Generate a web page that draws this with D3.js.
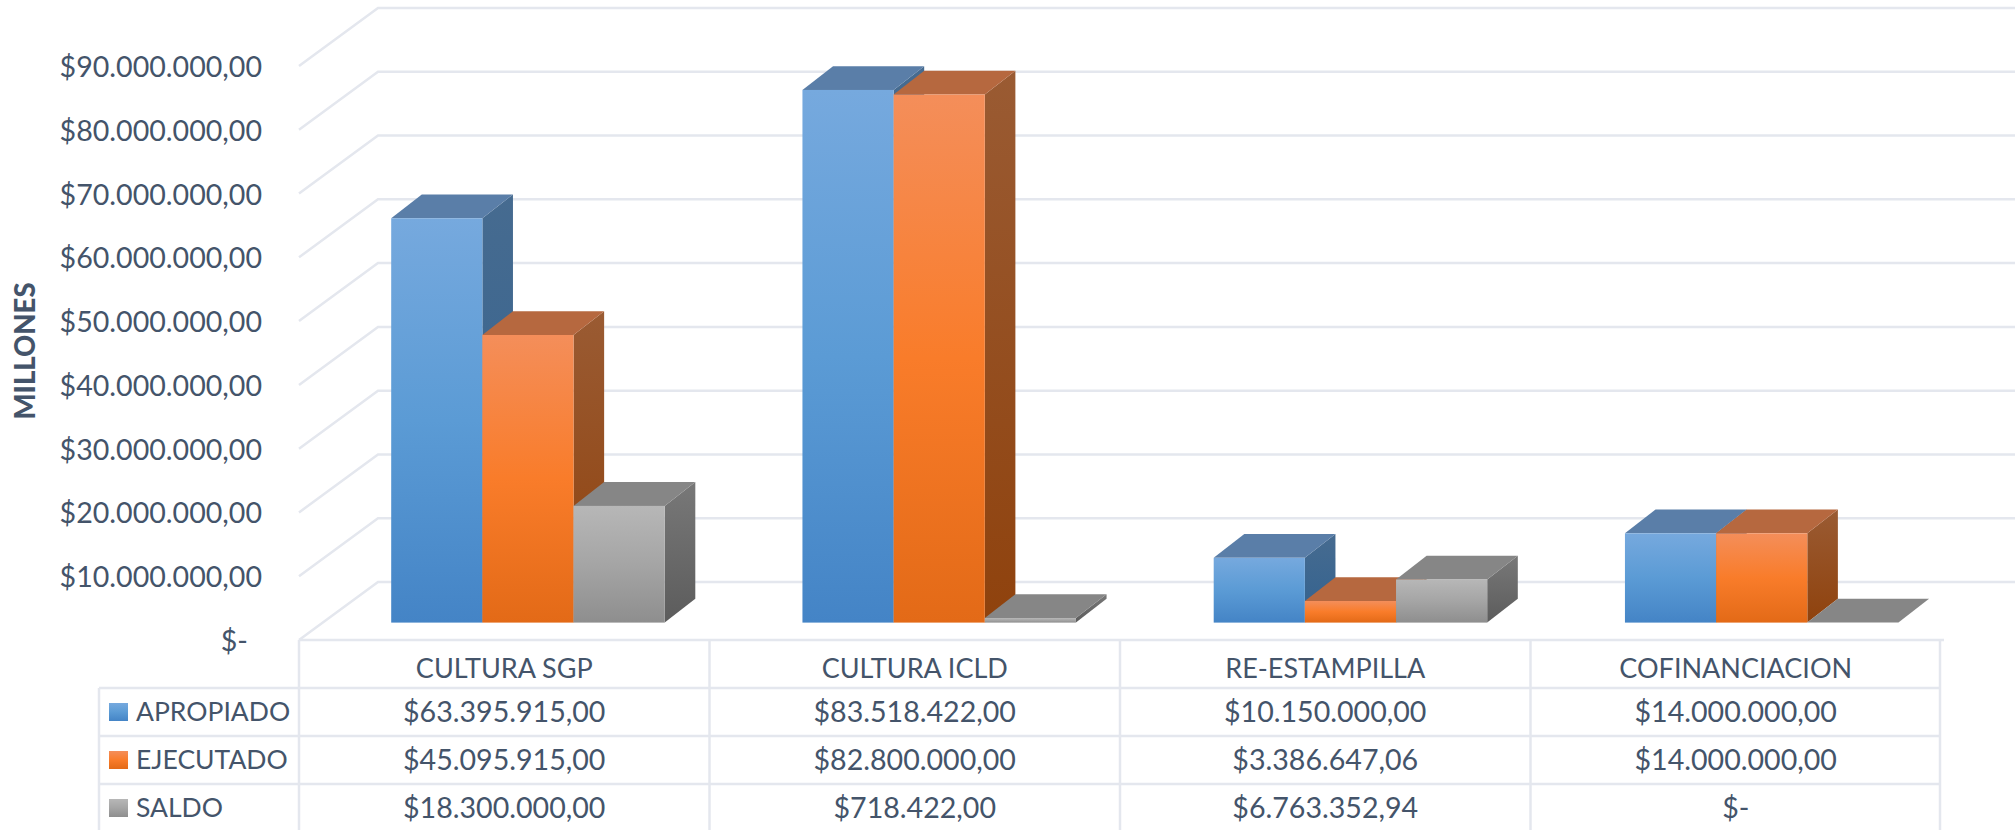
<!DOCTYPE html>
<html>
<head>
<meta charset="utf-8">
<script src="https://cdnjs.cloudflare.com/ajax/libs/d3/7.8.5/d3.min.js"></script>
<style>
html,body{margin:0;padding:0;background:#fff;overflow:hidden}
svg{display:block}
text{font-family:Lato,"Open Sans",sans-serif;fill:#44546a}
</style>
</head>
<body>
<svg id="chart" width="2015" height="830"></svg>
<script>
const categories = ["CULTURA SGP", "CULTURA ICLD", "RE-ESTAMPILLA", "COFINANCIACION"];
const seriesNames = ["APROPIADO", "EJECUTADO", "SALDO"];
const apropiado = [63395915, 83518422, 10150000, 14000000];
const ejecutado = [45095915, 82800000, 3386647.06, 14000000];
const saldo = [18300000, 718422, 6763352.94, 0];
const yTicks = [0, 10000000, 20000000, 30000000, 40000000, 50000000, 60000000, 70000000, 80000000, 90000000];
const seriesValues = [apropiado, ejecutado, saldo];
const palette = [
  {id:"a", g:["#76a9de","#5b9bd5","#4484c6"], side:["#466b90","#33628f"], top:"#5a7ea8"},
  {id:"e", g:["#f48e5a","#f97c2a","#e36a17"], side:["#9a5b33","#8f420d"], top:"#b6683f"},
  {id:"s", g:["#b7b7b7","#a5a5a5","#8e8e8e"], side:["#787878","#5c5c5c"], top:"#868686"}
];

const locale = d3.formatLocale({decimal:",", thousands:".", grouping:[3], currency:["$",""]});
const fmtNum = locale.format("$,.2f");
const money = v => v === 0 ? "$-" : fmtNum(v);

const svg = d3.select("#chart");
const defs = svg.append("defs");
palette.forEach(p => {
  const g = defs.append("linearGradient").attr("id","g"+p.id).attr("x1",0).attr("y1",0).attr("x2",0).attr("y2",1);
  p.g.forEach((c,i)=>g.append("stop").attr("offset",[0,.5,1][i]).attr("stop-color",c));
  const s = defs.append("linearGradient").attr("id","s"+p.id).attr("x1",0).attr("y1",0).attr("x2",0).attr("y2",1);
  p.side.forEach((c,i)=>s.append("stop").attr("offset",i).attr("stop-color",c));
});

const gridColor = "#e4e7ee";
const x = d3.scaleBand().domain(categories).range([299, 1941]);
const xBars = d3.scaleBand().domain(categories).range([299, 1944]);
const y = d3.scaleLinear().domain([0, 90000000]).range([640, 66]);
const DX = 79, DY = 58;
const proj = (px, v, d) => [px + d*DX, y(v) - d*DY];
const line = d3.line();

// walls
const grid = svg.append("g").attr("fill","none").attr("stroke",gridColor).attr("stroke-width",2.5);
yTicks.forEach(t => {
  grid.append("path").attr("d", line([proj(299,t,0), proj(299,t,1), [2015, y(t)-DY]]));
});

// bars
const inner = d3.scaleBand().domain(seriesNames).range([68.5, 342]);
const D0 = 0.30, D1 = 0.71;
const bx = d => (d === D1 ? 30.6 : 0);
const pb = (px, v, d) => { const q = proj(px, v, D0); return [q[0] + bx(d), y(v) - d*DY]; };
categories.forEach((c,ci) => {
  seriesNames.forEach((s,si) => {
    const v = seriesValues[si][ci], p = palette[si];
    const xl = xBars(c) + inner(s), xr = xl + inner.bandwidth();
    const g = svg.append("g");
    if (v > 0) {
      g.append("path").attr("fill",`url(#s${p.id})`)
        .attr("d", line([pb(xr,v,D0),pb(xr,v,D1),pb(xr,0,D1),pb(xr,0,D0)])+"Z");
    }
    g.append("path").attr("fill",p.top)
      .attr("d", line([pb(xl,v,D0),pb(xl,v,D1),pb(xr,v,D1),pb(xr,v,D0)])+"Z");
    if (v > 0) {
      const a = pb(xl,v,D0), b = pb(xr,0,D0);
      g.append("rect").attr("x",a[0]).attr("y",a[1]).attr("width",b[0]-a[0]).attr("height",b[1]-a[1])
        .attr("fill",`url(#g${p.id})`);
    }
  });
});

// y axis
const axis = d3.axisLeft(y).tickValues(yTicks).tickFormat(money).tickSize(0).tickPadding(37);
const ag = svg.append("g").attr("transform","translate(299,1)").call(axis);
ag.select(".domain").remove();
ag.selectAll("text").attr("font-size",28.6).style("font-family",'Lato,"Open Sans",sans-serif').style("fill","#44546a").attr("dy","0.33em")
  .filter(d => d === 0).attr("x",-51);

svg.append("text").attr("transform","translate(35,351) rotate(-90)").attr("text-anchor","middle")
  .attr("font-size",27.5).attr("font-weight",900).text("MILLONES");

// data table
const rowY = [640, 688, 736, 784, 832];
const tableLine = (x1,y1,x2,y2) => svg.append("line").attr("x1",x1).attr("y1",y1).attr("x2",x2).attr("y2",y2)
  .attr("stroke",gridColor).attr("stroke-width",2.5);
tableLine(299,640,1944,640);
rowY.slice(1,4).forEach(r => tableLine(99,r,1940,r));
categories.forEach(c => tableLine(x(c),640,x(c),830));
tableLine(1940,640,1940,830);
tableLine(99,688,99,830);

const mid = i => (rowY[i]+rowY[i+1])/2;
categories.forEach(c => {
  svg.append("text").attr("x",x(c)+x.bandwidth()/2).attr("y",mid(0)+5).attr("dy","0.35em")
    .attr("text-anchor","middle").attr("font-size",27).text(c);
});
seriesNames.forEach((s,si) => {
  const yy = mid(si+1);
  svg.append("rect").attr("x",109).attr("y",yy-9).attr("width",19).attr("height",18).attr("fill",`url(#g${palette[si].id})`);
  svg.append("text").attr("x",136).attr("y",yy).attr("dy","0.35em").attr("font-size",26.5).text(s);
  categories.forEach((c,ci) => {
    svg.append("text").attr("x",x(c)+x.bandwidth()/2).attr("y",yy).attr("dy","0.35em")
      .attr("text-anchor","middle").attr("font-size",28.6).text(money(seriesValues[si][ci]));
  });
});
</script>
</body>
</html>
